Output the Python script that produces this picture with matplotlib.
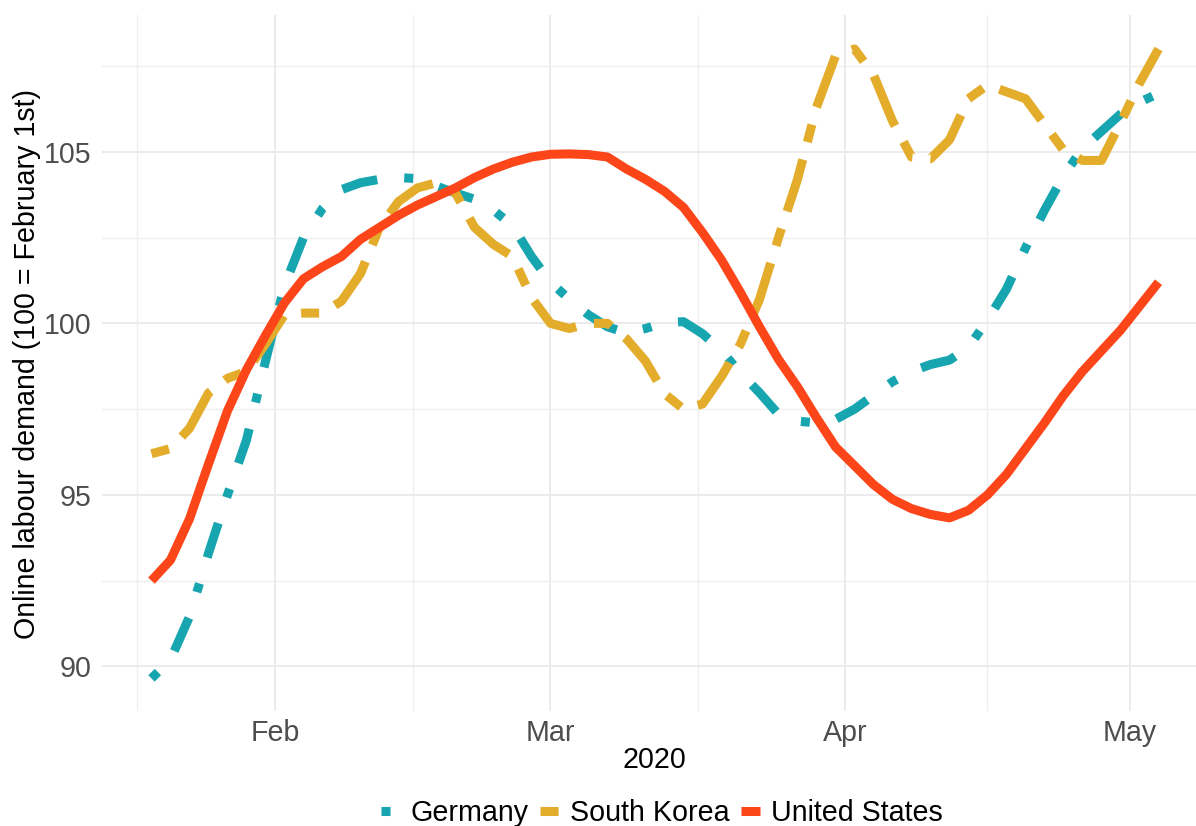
import matplotlib
matplotlib.use("Agg")
import matplotlib.pyplot as plt
import matplotlib.dates as mdates
import pandas as pd
import numpy as np

# ---- data (index, 100 = February 1st), every second day from Jan 19 to May 4, 2020
dates = pd.date_range("2020-01-19", "2020-05-04", freq="2D")

germany = [89.65, 90.2, 91.45, 93.3, 95.0, 96.6, 98.9, 101.1, 102.5, 103.35,
           103.9, 104.1, 104.2, 104.25, 104.22, 104.0, 103.8, 103.62, 103.3, 102.85,
           101.95, 101.2, 100.7, 100.25, 99.9, 99.72, 99.85, 100.02, 100.05, 99.7,
           99.2, 98.55, 97.98, 97.35, 97.15, 97.1, 97.2, 97.5, 97.9, 98.3,
           98.6, 98.8, 98.93, 99.3, 100.1, 101.0, 102.2, 103.3, 104.3, 105.1,
           105.6, 106.1, 106.45, 106.7]

south_korea = [96.2, 96.35, 96.94, 97.97, 98.4, 98.6, 99.4, 100.25, 100.3, 100.3,
               100.65, 101.45, 102.8, 103.55, 103.95, 104.1, 103.8, 102.8, 102.3, 101.95,
               100.75, 100.0, 99.85, 100.0, 100.0, 99.55, 98.9, 97.95, 97.5, 97.65,
               98.45, 99.4, 100.7, 102.5, 104.2, 106.3, 107.8, 108.0, 107.25, 105.9,
               104.85, 104.8, 105.35, 106.55, 106.95, 106.75, 106.55, 105.8, 105.05, 104.75,
               104.75, 105.85, 107.0, 108.0]

united_states = [92.5, 93.1, 94.3, 95.9, 97.45, 98.65, 99.65, 100.6, 101.3, 101.65,
                 101.95, 102.45, 102.8, 103.15, 103.45, 103.7, 103.95, 104.25, 104.5, 104.7,
                 104.85, 104.93, 104.94, 104.92, 104.85, 104.5, 104.2, 103.85, 103.38, 102.65,
                 101.85, 100.9, 99.9, 98.95, 98.15, 97.25, 96.4, 95.85, 95.3, 94.87,
                 94.6, 94.43, 94.33, 94.55, 95.0, 95.6, 96.35, 97.1, 97.9, 98.6,
                 99.2, 99.8, 100.5, 101.2]

series_names = ["Germany", "South Korea", "United States"]
series_colors = ["#17A5B0", "#E3AC2B", "#FC461A"]
series_styles = [(0, (1, 3, 4, 3)), (0, (2, 2, 6, 2)), "solid"]

y_major = [90, 95, 100, 105]
y_minor = [92.5, 97.5, 102.5, 107.5]
x_major_labels = ["Feb", "Mar", "Apr", "May"]

plt.rcParams["font.family"] = ["Liberation Sans", "DejaVu Sans"]
FS = 20.6

W, H = 1196, 826
fig = plt.figure(figsize=(W / 100, H / 100), dpi=100)
left_px, right_px, top_px, bottom_px = 102, 1204, 15, 711
ax = fig.add_axes([left_px / W, 1 - bottom_px / H, (right_px - left_px) / W, (bottom_px - top_px) / H])

feb1 = pd.Timestamp("2020-02-01")
def dnum(days):
    return mdates.date2num(feb1 + pd.Timedelta(days=days))

series = [germany, south_korea, united_states]
for name, vals, col, ls in zip(series_names, series, series_colors, series_styles):
    ax.plot(dates, vals, color=col, linestyle=ls, linewidth=6.5, label=name,
            dash_capstyle="butt", solid_capstyle="butt", solid_joinstyle="round",
            dash_joinstyle="round")

ax.set_xlim(dnum(-18.21), dnum(97.79))
ax.set_ylim(88.70, 108.99)

ax.set_xticks([mdates.date2num(pd.Timestamp(s)) for s in ["2020-02-01", "2020-03-01", "2020-04-01", "2020-05-01"]])
ax.set_xticklabels(x_major_labels)
ax.set_xticks([dnum(-14.5), dnum(14.5), dnum(44.5), dnum(75)], minor=True)
ax.set_yticks(y_major)
ax.set_yticklabels([str(v) for v in y_major])
ax.set_yticks(y_minor, minor=True)

ax.grid(True, which="major", color="#EBEBEB", linewidth=1.4)
ax.grid(True, which="minor", color="#EFEFEF", linewidth=1.0)
ax.set_axisbelow(True)
for s in ax.spines.values():
    s.set_visible(False)
ax.tick_params(which="both", length=0)
ax.tick_params(axis="x", labelsize=FS, labelcolor="#4D4D4D", pad=6.0)
ax.tick_params(axis="y", labelsize=FS, labelcolor="#4D4D4D", pad=7.5)

fig.text(654 / W, 1 - 760 / H, "2020", fontsize=FS, ha="center", va="center", color="black")
fig.text(27 / W, 1 - 364 / H, "Online labour demand (100 = February 1st)", fontsize=FS,
         rotation=90, ha="center", va="center", color="black")

leg = fig.legend(loc="center", bbox_to_anchor=(662 / W, 1 - 813 / H), ncol=3, frameon=False,
                 fontsize=FS, handlelength=0.66, handletextpad=0.38, columnspacing=0.40,
                 borderpad=0, borderaxespad=0)

fig.savefig("out.png", dpi=100)
